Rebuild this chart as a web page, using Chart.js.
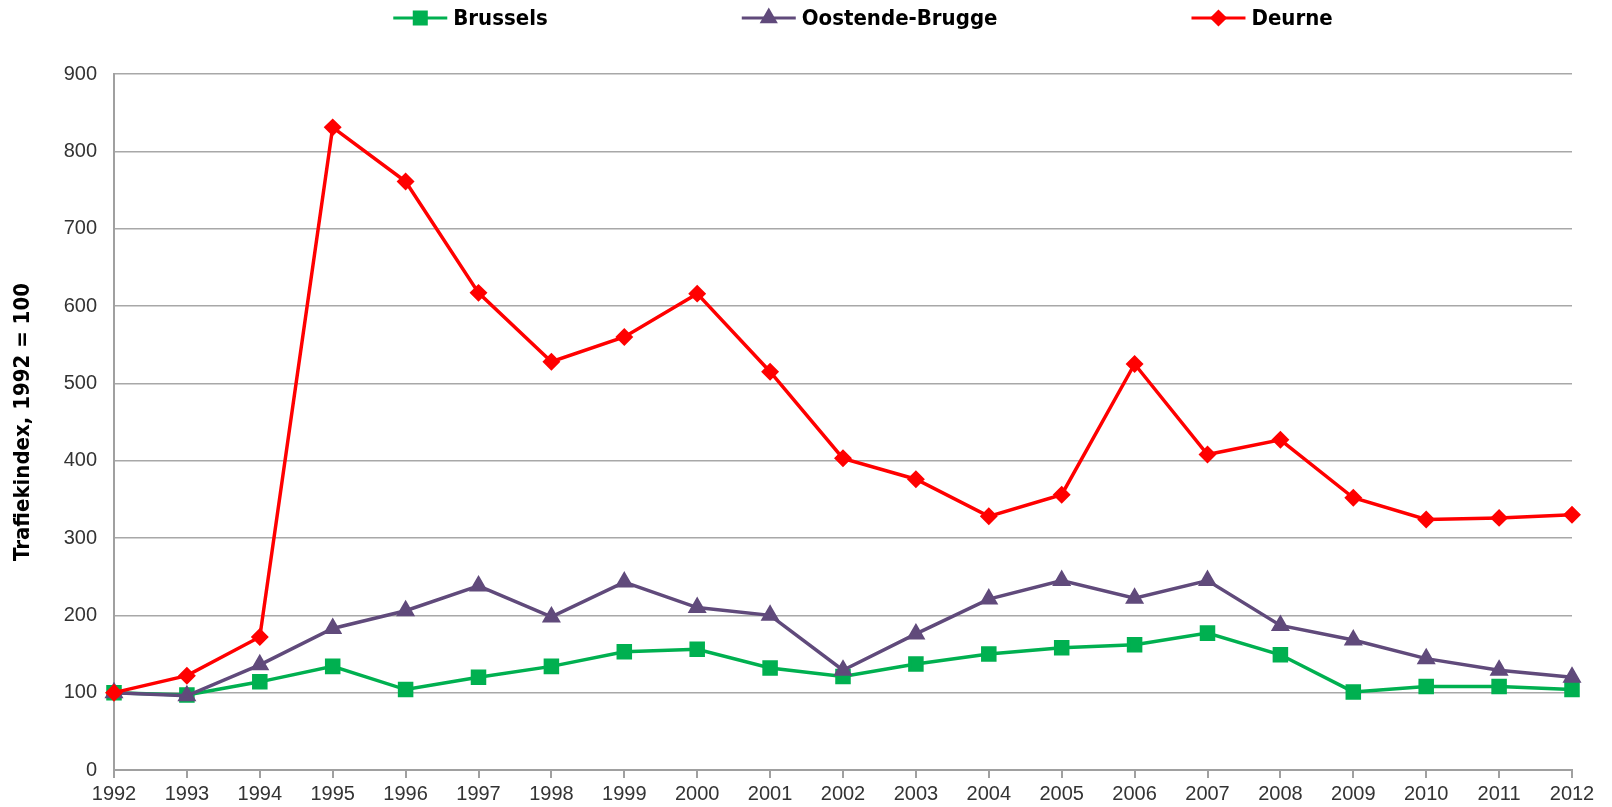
<!DOCTYPE html>
<html>
<head>
<meta charset="utf-8">
<script src="https://cdn.jsdelivr.net/npm/chart.js@4.4.0/dist/chart.umd.min.js"></script>
<style>
    html, body { margin: 0; padding: 0; background: #fff; }
    #wrap { width: 1612px; height: 807px; }
</style>
</head>
<body>
<div id="wrap"><canvas id="trafficChart"></canvas></div>
<script>
// Data
const years = ['1992', '1993', '1994', '1995', '1996', '1997', '1998', '1999', '2000', '2001', '2002',
               '2003', '2004', '2005', '2006', '2007', '2008', '2009', '2010', '2011', '2012'];
const brussels = [100, 97, 114, 134, 104, 120, 134, 153, 156, 132, 121, 137, 150, 158, 162, 177, 149, 101, 108, 108, 104];
const oostende = [100, 96, 136, 183, 206, 238, 198, 243, 210, 200, 129, 176, 221, 245, 222, 245, 187, 168, 144, 129, 120];
const deurne = [100, 122, 172, 831, 761, 617, 528, 560, 616, 515, 403, 376, 328, 356, 525, 408, 427, 352, 324, 326, 330];
const seriesNames = ['Brussels', 'Oostende-Brugge', 'Deurne'];
const yTicks = [0, 100, 200, 300, 400, 500, 600, 700, 800, 900];

const GREEN = '#00B050';
const PURPLE = '#604A7B';
const RED = '#FF0000';
const NARROW = '"DejaVu Sans Condensed", "Liberation Sans Narrow", "Arial Narrow", sans-serif';

// Legend drawn like the Excel one: short line with the marker in the middle
const topLegend = {
    id: 'topLegend',
    afterDraw(chart) {
        const ctx = chart.ctx;
        const lineW = 54, gap = 6, itemGap = 194, cy = 18;
        ctx.save();
        ctx.font = 'bold 22px ' + NARROW;
        ctx.textBaseline = 'middle';
        const items = chart.data.datasets.map(ds => ({ ds, w: ctx.measureText(ds.label).width }));
        let total = items.reduce((s, it) => s + lineW + gap + it.w, 0) + itemGap * (items.length - 1);
        let x = 863 - total / 2;
        items.forEach(it => {
            const ds = it.ds;
            ctx.strokeStyle = ds.borderColor;
            ctx.lineWidth = 3;
            ctx.beginPath();
            ctx.moveTo(x, cy);
            ctx.lineTo(x + lineW, cy);
            ctx.stroke();
            Chart.helpers.drawPoint(ctx, {
                pointStyle: ds.pointStyle,
                radius: ds.pointRadius,
                borderWidth: 1,
                rotation: 0
            }, x + lineW / 2, cy);
            ctx.fillStyle = ds.pointBackgroundColor;
            ctx.strokeStyle = ds.pointBorderColor;
            ctx.fill();
            ctx.fillStyle = '#000';
            ctx.fillText(ds.label, x + lineW + gap, cy + 1);
            x += lineW + gap + it.w + itemGap;
        });
        ctx.restore();
    }
};

const ctx = document.getElementById('trafficChart').getContext('2d');
new Chart(ctx, {
    type: 'line',
    data: {
        labels: years,
        datasets: [{
            label: seriesNames[0],
            data: brussels,
            borderColor: GREEN,
            backgroundColor: GREEN,
            pointBackgroundColor: GREEN,
            pointBorderColor: GREEN,
            pointStyle: 'rect',
            pointRadius: 8.5,
            borderWidth: 3.5,
            order: 3
        }, {
            label: seriesNames[1],
            data: oostende,
            borderColor: PURPLE,
            backgroundColor: PURPLE,
            pointBackgroundColor: PURPLE,
            pointBorderColor: PURPLE,
            pointStyle: 'triangle',
            pointRadius: 7.5,
            borderWidth: 3.5,
            order: 2
        }, {
            label: seriesNames[2],
            data: deurne,
            borderColor: RED,
            backgroundColor: RED,
            pointBackgroundColor: RED,
            pointBorderColor: RED,
            pointStyle: 'rectRot',
            pointRadius: 6.5,
            borderWidth: 3.5,
            order: 1
        }]
    },
    options: {
        responsive: true,
        maintainAspectRatio: false,
        animation: false,
        layout: {
            padding: { top: 74, right: 40, left: 0, bottom: 0 }
        },
        plugins: {
            legend: { display: false },
            tooltip: { enabled: false }
        },
        elements: {
            line: { tension: 0 },
            point: { borderWidth: 1, hoverRadius: 8 }
        },
        scales: {
            x: {
                offset: false,
                grid: {
                    display: true,
                    drawOnChartArea: false,
                    drawTicks: true,
                    tickLength: 8,
                    color: '#a0a0a0',
                    lineWidth: 2
                },
                border: { display: true, color: '#a0a0a0', width: 2 },
                ticks: {
                    color: '#333333',
                    font: { family: '"Liberation Sans", Arial, sans-serif', size: 20 },
                    padding: 4,
                    maxRotation: 0,
                    autoSkip: false
                },
                afterFit(scale) { scale.height = 37; }
            },
            y: {
                min: 0,
                max: 900,
                afterBuildTicks(scale) { scale.ticks = yTicks.map(v => ({ value: v })); },
                grid: {
                    color: '#a8a8a8',
                    lineWidth: 1.5,
                    drawTicks: false
                },
                border: { display: true, color: '#a0a0a0', width: 2 },
                ticks: {
                    color: '#333333',
                    font: { family: '"Liberation Sans", Arial, sans-serif', size: 20 },
                    padding: 17
                },
                title: {
                    display: true,
                    text: 'Trafiekindex, 1992 = 100',
                    color: '#000',
                    font: { family: NARROW, size: 22, weight: 'bold' },
                    padding: { top: 10, bottom: 0 }
                },
                afterFit(scale) { scale.width = 114; }
            }
        }
    },
    plugins: [topLegend]
});
</script>
</body>
</html>
